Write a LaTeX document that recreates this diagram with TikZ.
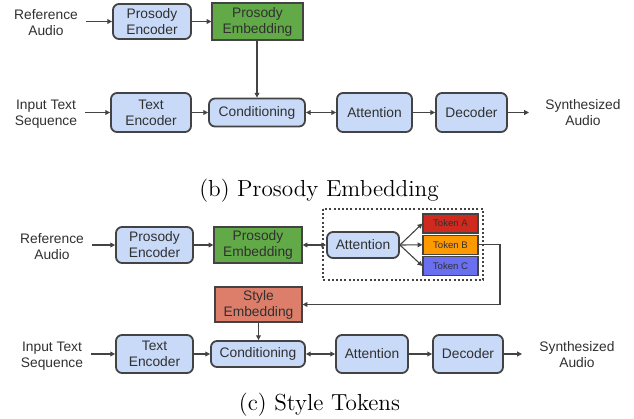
\documentclass[tikz,border=0pt]{standalone}
\usepackage{fontspec}
\newfontfamily\labfont{Liberation Sans}
\usetikzlibrary{arrows.meta}
\definecolor{boxblue}{HTML}{C9DAF8}
\definecolor{embgreen}{HTML}{62AA48}
\definecolor{stylesalmon}{HTML}{DD7E6B}
\definecolor{tokred}{HTML}{D02A1F}
\definecolor{tokorange}{HTML}{FF9900}
\definecolor{tokblue}{HTML}{6A6FF0}
\definecolor{edgegray}{HTML}{434343}
\definecolor{txtgray}{HTML}{303030}
\tikzset{
  lab/.style={font=\labfont\fontsize{6.9}{8}\selectfont, text=txtgray, align=center, inner sep=0pt},
  bbox/.style={lab, draw=edgegray, line width=0.9pt, fill=boxblue, rounded corners=3pt},
  gbox/.style={lab, draw=edgegray, line width=0.6pt, fill=embgreen},
  sbox/.style={lab, draw=edgegray, line width=0.6pt, fill=stylesalmon},
  tbox/.style={font=\labfont\fontsize{4.8}{5.5}\selectfont, text=txtgray, draw=edgegray, line width=0.6pt, inner sep=0pt, minimum width=27.5pt, minimum height=9.5pt},
  outer/.style={lab, inner sep=4pt},
  conn/.style={draw=edgegray, line width=0.55pt, -{Triangle[length=2.4pt,width=2.4pt]}},
  bconn/.style={draw=edgegray, line width=0.55pt, {Triangle[length=2.4pt,width=2.4pt]}-{Triangle[length=2.4pt,width=2.4pt]}},
  captxt/.style={font=\fontsize{11.6}{14}\selectfont, anchor=base, inner sep=0pt},
}
\begin{document}
\begin{tikzpicture}[x=0.5pt,y=-0.5pt]
\useasboundingbox (0,0) rectangle (634,419);
% ---------- (b) ----------
\node[outer] (refb) at (46,23) {Reference\\Audio};
\node[bbox, minimum width=39pt, minimum height=17.5pt] (pencb) at (152,21.5) {Prosody\\Encoder};
\node[gbox, minimum width=45.5pt, minimum height=18.5pt] (pembb) at (257.5,21.5) {Prosody\\Embedding};
\node[outer] (inpb) at (46,114) {Input Text\\Sequence};
\node[bbox, minimum width=40pt, minimum height=19.5pt] (tencb) at (151,112.5) {Text\\Encoder};
\node[bbox, minimum width=48pt, minimum height=14pt] (condb) at (257,112.5) {Conditioning};
\node[bbox, minimum width=37.5pt, minimum height=19.5pt] (attb) at (374.5,112.5) {Attention};
\node[bbox, minimum width=35.5pt, minimum height=19.5pt] (decb) at (471.5,112.5) {Decoder};
\node[lab, inner sep=8pt] (synb) at (583,113) {Synthesized\\Audio};
\draw[conn] (refb.east |- pencb.west) -- (pencb.west);
\draw[conn] (pencb.east) -- (pembb.west);
\draw[conn] (pembb.south -| condb.north) -- (condb.north);
\draw[conn] (inpb.east |- tencb.west) -- (tencb.west);
\draw[conn] (tencb.east) -- (condb.west);
\draw[bconn] (condb.east) -- (attb.west);
\draw[conn] (attb.east) -- (decb.west);
\draw[conn] (decb.east) -- (synb.west |- decb.east);
\node[captxt] (capb) at (319,196) {(b) Prosody Embedding};
% ---------- (c) ----------
\node[outer] (refc) at (52,246.5) {Reference\\Audio};
\node[bbox, minimum width=38.5pt, minimum height=18pt] (pencc) at (154.5,245) {Prosody\\Encoder};
\node[gbox, minimum width=44pt, minimum height=18pt] (pembc) at (258,245) {Prosody\\Embedding};
\draw[edgegray, line width=1pt, dash pattern=on 1pt off 1.1pt] (323,209) rectangle (483,280);
\node[bbox, minimum width=36pt, minimum height=13pt] (attc1) at (363,245) {Attention};
\node[tbox, fill=tokred] (toka) at (450.5,223.5) {Token A};
\node[tbox, fill=tokorange] (tokb) at (450.5,244.8) {Token B};
\node[tbox, fill=tokblue] (tokc) at (450.5,266) {Token C};
\node[sbox, minimum width=43.5pt, minimum height=17.5pt] (style) at (258.5,304.5) {Style\\Embedding};
\coordinate (fb) at (500,304.5);
\node[outer] (inpc) at (52,356) {Input Text\\Sequence};
\node[bbox, minimum width=38.5pt, minimum height=19pt] (tencc) at (154.5,354) {Text\\Encoder};
\node[bbox, minimum width=47pt, minimum height=13pt] (condc) at (258,354) {Conditioning};
\node[bbox, minimum width=36pt, minimum height=19pt] (attc2) at (372,354) {Attention};
\node[bbox, minimum width=35pt, minimum height=19pt] (decc) at (468,354) {Decoder};
\node[lab, inner sep=8.5pt] (sync) at (577,355) {Synthesized\\Audio};
\draw[conn] (refc.east |- pencc.west) -- (pencc.west);
\draw[conn] (pencc.east) -- (pembc.west);
\draw[bconn] (pembc.east) -- (attc1.west);
\draw[conn] (attc1.east) -- (toka.west);
\draw[conn] (attc1.east) -- (tokb.west);
\draw[conn] (attc1.east) -- (tokc.west);
\draw[conn] (tokb.east) -| (fb) -- (style.east);
\draw[conn] (style.south) -- (style.south |- condc.north);
\draw[conn] (inpc.east |- tencc.west) -- (tencc.west);
\draw[conn] (tencc.east) -- (condc.west);
\draw[bconn] (condc.east) -- (attc2.west);
\draw[conn] (attc2.east) -- (decc.west);
\draw[conn] (decc.east) -- (sync.west |- decc.east);
\node[captxt] (capc) at (319.5,410) {(c) Style Tokens};
\end{tikzpicture}
\end{document}
